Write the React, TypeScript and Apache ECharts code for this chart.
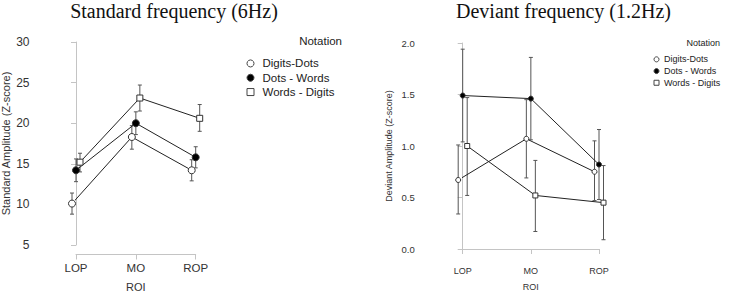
import React, { useEffect, useRef } from "react";
import * as echarts from "echarts";

const CATEGORIES = ["LOP", "MO", "ROP"];
const SERIES_NAMES = ["Digits-Dots", "Dots - Words", "Words - Digits"];
const LEGEND_TITLE = "Notation";
const X_NAME = "ROI";

// Standard frequency (6Hz)
const STD_TITLE = "Standard frequency (6Hz)";
const STD_Y_NAME = "Standard Amplitude (Z-score)";
const STD_Y_TICKS = [5, 10, 15, 20, 25, 30];
const STD_DIGITS_DOTS = [10.1, 18.3, 14.2];
const STD_DIGITS_DOTS_LOW = [8.8, 16.8, 12.9];
const STD_DIGITS_DOTS_HIGH = [11.4, 19.7, 15.5];
const STD_DOTS_WORDS = [14.2, 20.0, 15.8];
const STD_DOTS_WORDS_LOW = [12.8, 18.6, 14.5];
const STD_DOTS_WORDS_HIGH = [15.6, 21.4, 17.1];
const STD_WORDS_DIGITS = [15.2, 23.1, 20.6];
const STD_WORDS_DIGITS_LOW = [14.0, 21.5, 19.0];
const STD_WORDS_DIGITS_HIGH = [16.3, 24.7, 22.3];

// Deviant frequency (1.2Hz)
const DEV_TITLE = "Deviant frequency (1.2Hz)";
const DEV_Y_NAME = "Deviant Amplitude (Z-score)";
const DEV_Y_TICKS = [0, 0.5, 1.0, 1.5, 2.0];
const DEV_DIGITS_DOTS = [0.67, 1.07, 0.75];
const DEV_DIGITS_DOTS_LOW = [0.34, 0.69, 0.47];
const DEV_DIGITS_DOTS_HIGH = [1.01, 1.45, 1.05];
const DEV_DOTS_WORDS = [1.49, 1.46, 0.82];
const DEV_DOTS_WORDS_LOW = [1.04, 1.06, 0.48];
const DEV_DOTS_WORDS_HIGH = [1.94, 1.86, 1.16];
const DEV_WORDS_DIGITS = [1.0, 0.52, 0.45];
const DEV_WORDS_DIGITS_LOW = [0.52, 0.17, 0.09];
const DEV_WORDS_DIGITS_HIGH = [1.47, 0.86, 0.81];

const SANS = "'Liberation Sans', Arial, sans-serif";
const SERIF = "'Liberation Serif', 'Times New Roman', serif";
const AXIS_GRAY = "#c4c4c4";
const TEXT = "#333";
const LINE = "#222";
const ERR = "#555";

const SYMBOLS = [
  { symbol: "circle", fill: "#fff" },
  { symbol: "circle", fill: "#000" },
  { symbol: "rect", fill: "#fff" },
];

type Panel = {
  grid: { left: number; right: number; top: number; height: number };
  yMin: number;
  yMax: number;
  yInterval: number;
  yTicks: number[];
  yOffset: number;
  xOffset: number;
  yLabelSize: number;
  labelSize: number;
  nameSize: number;
  yLabelMargin: number;
  xLabelMargin: number;
  xNameGap: number;
  yNameGap: number;
  yName: string;
  fmt: (v: number) => string;
  values: number[][];
  lows: number[][];
  highs: number[][];
  dodgePx: number;
  symbolSizes: number[];
  capHalf: number;
};

const W = 729;

function buildPanel(p: Panel, idx: number, series: any[], grids: any[], xAxes: any[], yAxes: any[]) {
  grids.push({ ...p.grid, containLabel: false, outerBoundsMode: "none" });
  const gridWidth = W - p.grid.left - p.grid.right;
  const pxPerUnit = gridWidth / (CATEGORIES.length - 1);
  xAxes.push({
    gridIndex: idx,
    type: "value",
    min: 0,
    max: CATEGORIES.length - 1,
    interval: 1,
    offset: p.xOffset,
    splitLine: { show: false },
    axisLine: { show: true, lineStyle: { color: AXIS_GRAY, width: 1 } },
    axisTick: { show: true, length: 5, lineStyle: { color: AXIS_GRAY } },
    axisLabel: {
      formatter: (v: number) => CATEGORIES[v] ?? "",
      color: TEXT,
      fontFamily: SANS,
      fontSize: p.labelSize,
      margin: p.xLabelMargin,
    },
    name: X_NAME,
    nameLocation: "middle",
    nameGap: p.xNameGap,
    nameTextStyle: { color: TEXT, fontFamily: SANS, fontSize: p.nameSize },
  });
  yAxes.push({
    gridIndex: idx,
    type: "value",
    min: p.yMin,
    max: p.yMax,
    interval: p.yInterval,
    offset: p.yOffset,
    splitLine: { show: false },
    axisLine: { show: true, lineStyle: { color: AXIS_GRAY, width: 1 } },
    axisTick: { show: true, length: 5, lineStyle: { color: AXIS_GRAY } },
    axisLabel: {
      formatter: p.fmt,
      color: TEXT,
      fontFamily: SANS,
      fontSize: p.yLabelSize,
      margin: p.yLabelMargin,
    },
    name: p.yName,
    nameLocation: "middle",
    nameGap: p.yNameGap,
    nameTextStyle: { color: TEXT, fontFamily: SANS, fontSize: p.nameSize },
  });

  const dodges = [-p.dodgePx, 0, p.dodgePx];
  // error bars
  SERIES_NAMES.forEach((_, s) => {
    const dx = dodges[s];
    series.push({
      type: "custom",
      xAxisIndex: idx,
      yAxisIndex: idx,
      z: 1,
      silent: true,
      data: CATEGORIES.map((_, i) => [i, p.lows[s][i], p.highs[s][i]]),
      encode: { x: 0, y: [1, 2] },
      renderItem: (params: any, api: any) => {
        const x = api.value(0);
        const lo = api.coord([x, api.value(1)]);
        const hi = api.coord([x, api.value(2)]);
        const cx = lo[0] + dx;
        const st = { stroke: ERR, lineWidth: 1 };
        return {
          type: "group",
          children: [
            { type: "line", shape: { x1: cx, y1: lo[1], x2: cx, y2: hi[1] }, style: st },
            { type: "line", shape: { x1: cx - p.capHalf, y1: lo[1], x2: cx + p.capHalf, y2: lo[1] }, style: st },
            { type: "line", shape: { x1: cx - p.capHalf, y1: hi[1], x2: cx + p.capHalf, y2: hi[1] }, style: st },
          ],
        };
      },
    });
  });
  // lines with symbols
  SERIES_NAMES.forEach((name, s) => {
    const du = dodges[s] / pxPerUnit;
    series.push({
      type: "line",
      name,
      xAxisIndex: idx,
      yAxisIndex: idx,
      z: 3,
      clip: false,
      silent: true,
      data: p.values[s].map((v, i) => [i + du, v]),
      symbol: SYMBOLS[s].symbol,
      symbolSize: p.symbolSizes[s],
      showSymbol: true,
      lineStyle: { color: LINE, width: 1 },
      itemStyle: { color: SYMBOLS[s].fill, borderColor: "#333", borderWidth: 1 },
    });
  });
}

export default function App() {
  const ref = useRef<HTMLDivElement>(null);
  useEffect(() => {
    if (!ref.current) return;
    const chart = echarts.init(ref.current, null, { renderer: "svg" });
    const series: any[] = [];
    const grids: any[] = [];
    const xAxes: any[] = [];
    const yAxes: any[] = [];

    buildPanel(
      {
        grid: { left: 76, right: W - 195.7, top: 42, height: 203 },
        yMin: 5,
        yMax: 30,
        yInterval: 5,
        yTicks: STD_Y_TICKS,
        yOffset: 37,
        xOffset: 9.5,
        yLabelSize: 12,
        labelSize: 11.5,
        nameSize: 11,
        yLabelMargin: 9.5,
        xLabelMargin: 7.5,
        xNameGap: 27,
        yNameGap: 27.5,
        yName: STD_Y_NAME,
        fmt: (v: number) => String(v),
        values: [STD_DIGITS_DOTS, STD_DOTS_WORDS, STD_WORDS_DIGITS],
        lows: [STD_DIGITS_DOTS_LOW, STD_DOTS_WORDS_LOW, STD_WORDS_DIGITS_LOW],
        highs: [STD_DIGITS_DOTS_HIGH, STD_DOTS_WORDS_HIGH, STD_WORDS_DIGITS_HIGH],
        dodgePx: 4,
        symbolSizes: [7, 7, 6],
        capHalf: 2,
      },
      0,
      series,
      grids,
      xAxes,
      yAxes
    );
    buildPanel(
      {
        grid: { left: 462.7, right: W - 599, top: 43, height: 206 },
        yMin: 0,
        yMax: 2,
        yInterval: 0.5,
        yTicks: DEV_Y_TICKS,
        yOffset: 41,
        xOffset: 10,
        yLabelSize: 9.5,
        labelSize: 9,
        nameSize: 9,
        yLabelMargin: 7,
        xLabelMargin: 7.5,
        xNameGap: 23.5,
        yNameGap: 28,
        yName: DEV_Y_NAME,
        fmt: (v: number) => v.toFixed(1),
        values: [DEV_DIGITS_DOTS, DEV_DOTS_WORDS, DEV_WORDS_DIGITS],
        lows: [DEV_DIGITS_DOTS_LOW, DEV_DOTS_WORDS_LOW, DEV_WORDS_DIGITS_LOW],
        highs: [DEV_DIGITS_DOTS_HIGH, DEV_DOTS_WORDS_HIGH, DEV_WORDS_DIGITS_HIGH],
        dodgePx: 4.5,
        symbolSizes: [5, 5, 5],
        capHalf: 2,
      },
      1,
      series,
      grids,
      xAxes,
      yAxes
    );

    const legendData = () =>
      SERIES_NAMES.map((name, s) => ({
        name,
        icon: SYMBOLS[s].symbol,
        itemStyle: { color: SYMBOLS[s].fill, borderColor: "#444", borderWidth: 1 },
      }));

    chart.setOption({
      animation: false,
      grid: grids,
      xAxis: xAxes,
      yAxis: yAxes,
      series,
      legend: [
        {
          orient: "vertical",
          left: 241.5,
          top: 51.3,
          itemWidth: 7,
          itemHeight: 7,
          itemGap: 0,
          selectedMode: false,
          data: legendData(),
          textStyle: {
            color: "#222",
            fontFamily: SANS,
            fontSize: 11.5,
            lineHeight: 14.3,
            padding: [0, 0, 0, 3.5],
          },
        },
        {
          orient: "vertical",
          left: 648.5,
          top: 48.5,
          itemWidth: 5,
          itemHeight: 5,
          itemGap: 0,
          selectedMode: false,
          data: legendData(),
          textStyle: { color: "#222", fontFamily: SANS, fontSize: 9, lineHeight: 11.7 },
        },
      ],
      graphic: [
        {
          type: "text",
          x: 174,
          y: 11,
          style: { text: STD_TITLE, font: `20px ${SERIF}`, fill: "#111", align: "center", verticalAlign: "middle" },
        },
        {
          type: "text",
          x: 563.5,
          y: 11,
          style: { text: DEV_TITLE, font: `20px ${SERIF}`, fill: "#111", align: "center", verticalAlign: "middle" },
        },
        {
          type: "text",
          x: 342,
          y: 41,
          style: { text: LEGEND_TITLE, font: `11.5px ${SANS}`, fill: "#222", align: "right", verticalAlign: "middle" },
        },
        {
          type: "text",
          x: 720,
          y: 43,
          style: { text: LEGEND_TITLE, font: `9px ${SANS}`, fill: "#222", align: "right", verticalAlign: "middle" },
        },
      ],
    });
    return () => chart.dispose();
  }, []);
  return <div ref={ref} style={{ width: 729, height: 293, position: "absolute", left: 0, top: 0 }} />;
}
